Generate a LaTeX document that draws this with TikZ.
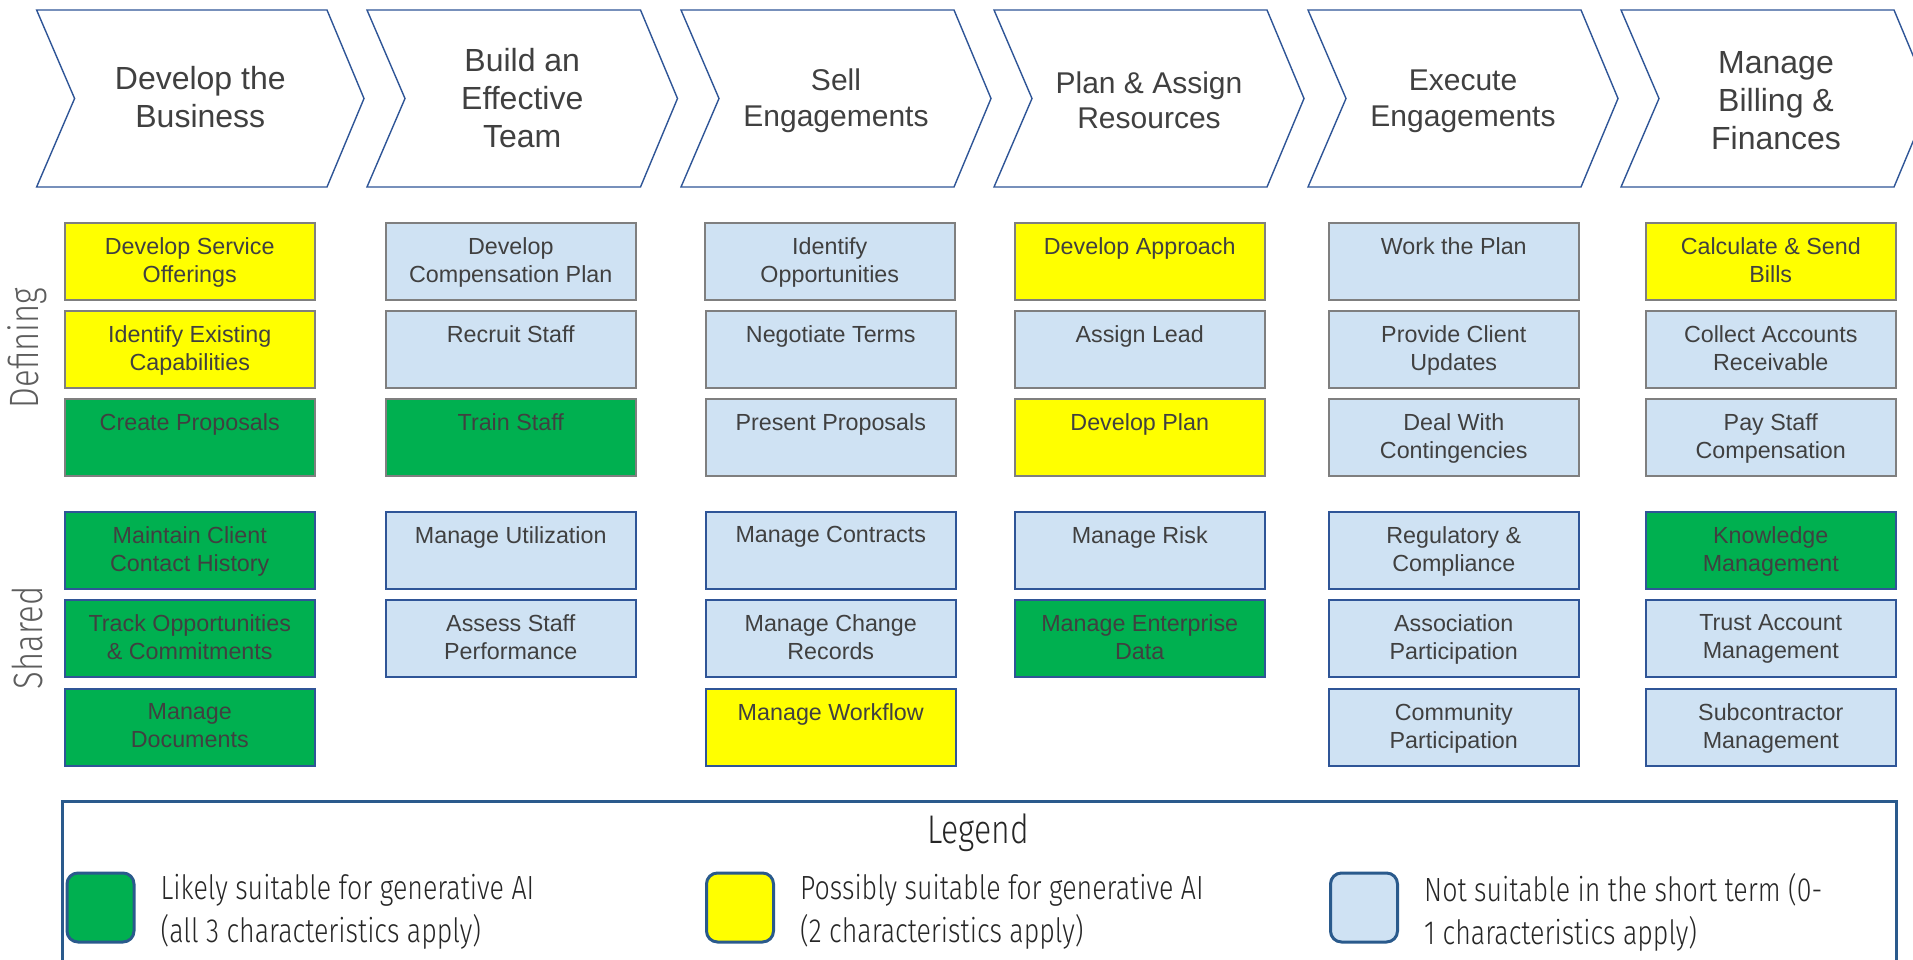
\documentclass[tikz,border=0pt]{standalone}
\usepackage{fontspec}
\setmainfont{Liberation Sans}
\newfontfamily\thinfont[FakeStretch=0.80]{Fira Sans Light}
\usetikzlibrary{positioning}
\definecolor{aigreen}{HTML}{00B050}
\definecolor{aiyellow}{HTML}{FFFF00}
\definecolor{aiblue}{HTML}{CFE2F3}
\definecolor{rimgray}{HTML}{7F7F7F}
\definecolor{rimblue}{HTML}{2F5597}
\definecolor{frameblue}{HTML}{2A5A8C}
\definecolor{inkgray}{HTML}{404040}
\tikzset{
	phase/.style={
		draw=rimblue,
		line width=1.4pt,
		fill=white,
		line join=miter
	},
	phasetext/.style={
		align=center,
		text=inkgray,
		inner sep=0pt,
		font=\fontsize{32}{38}\selectfont
	},
	smallphase/.style={
		font=\fontsize{30}{35.5}\selectfont
	},
	task/.style={
		rectangle,
		anchor=north west,
		minimum width=250pt,
		minimum height=77pt,
		inner sep=0pt,
		line width=1.5pt
	},
	tasktext/.style={
		anchor=north,
		align=center,
		inner sep=0pt,
		text=inkgray,
		font=\fontsize{23.3}{28}\selectfont
	},
	defining/.style={task, draw=rimgray},
	shared/.style={task, draw=rimblue},
	likely/.style={fill=aigreen},
	possibly/.style={fill=aiyellow},
	unlikely/.style={fill=aiblue},
	sidetext/.style={
		rotate=90,
		text=inkgray!85,
		inner sep=0pt,
		font=\thinfont\fontsize{41}{41}\selectfont
	},
	swatch/.style={
		rectangle,
		rounded corners=11pt,
		draw=frameblue,
		line width=3pt,
		minimum width=67pt,
		minimum height=69pt,
		inner sep=0pt
	},
	keytext/.style={
		align=left,
		inner sep=0pt,
		yshift=-4.5pt,
		text=black!85,
		font=\thinfont\fontsize{33.5}{43}\selectfont
	}
}
\newcommand{\phasebox}[5][]{%
	\draw[phase] (#3,10) -- (#4,10) -- (#4+37,98.5) -- (#4,187) -- (#3,187) -- (#3+38,98.5) -- cycle;
	\node[phasetext, #1] (#2) at ({(#3+#4+37)/2},98.5) {#5};
}
\newcommand{\taskbox}[5]{%
	\node[#4] (#1) at (#2,#3) {};
	\node[tasktext] (#1-text) at ([yshift=-15pt]#1.north) {#5};
}

\begin{document}
\begin{tikzpicture}[x=1pt, y=-1pt]
	\useasboundingbox (0,0) rectangle (1913,960);
	\fill[white] (0,0) rectangle (1913,960);

	\phasebox[yshift=1pt]{business}{36.6}{327}{Develop the\\Business}
	\phasebox{team}{367}{640.5}{Build an\\Effective\\Team}
	\phasebox[smallphase, yshift=-2pt]{sell}{681}{954}{Sell\\Engagements}
	\phasebox[smallphase, yshift=-2pt]{plan}{994}{1267}{Plan \& Assign\\Resources}
	\phasebox[smallphase, yshift=-3pt]{execute}{1308}{1581}{Execute\\Engagements}
	\phasebox[yshift=-2pt]{billing}{1621}{1894}{Manage\\Billing \&\\Finances}

	\node[sidetext] (defining) at (27,348) {Defining};
	\node[sidetext] (shared) at (27,638) {Shared};

	\taskbox{offerings}{64}{222}{defining, possibly}{Develop Service\\Offerings}
	\taskbox{capabilities}{64}{310}{defining, possibly}{Identify Existing\\Capabilities}
	\taskbox{proposals}{64}{398}{defining, likely}{Create Proposals}
	\taskbox{history}{64}{511}{shared, likely}{Maintain Client\\Contact History}
	\taskbox{commitments}{64}{599}{shared, likely}{Track Opportunities\\\& Commitments}
	\taskbox{documents}{64}{688}{shared, likely}{Manage\\Documents}

	\taskbox{compplan}{385}{222}{defining, unlikely}{Develop\\Compensation Plan}
	\taskbox{recruit}{385}{310}{defining, unlikely}{Recruit Staff}
	\taskbox{train}{385}{398}{defining, likely}{Train Staff}
	\taskbox{utilization}{385}{511}{shared, unlikely}{Manage Utilization}
	\taskbox{assess}{385}{599}{shared, unlikely}{Assess Staff\\Performance}

	\taskbox{opportunities}{704}{222}{defining, unlikely}{Identify\\Opportunities}
	\taskbox{terms}{705}{310}{defining, unlikely}{Negotiate Terms}
	\taskbox{present}{705}{398}{defining, unlikely}{Present Proposals}
	\taskbox{contracts}{705}{511}{shared, unlikely}{Manage Contracts}
	\taskbox{changes}{705}{599}{shared, unlikely}{Manage Change\\Records}
	\taskbox{workflow}{705}{688}{shared, possibly}{Manage Workflow}

	\taskbox{approach}{1014}{222}{defining, possibly}{Develop Approach}
	\taskbox{lead}{1014}{310}{defining, unlikely}{Assign Lead}
	\taskbox{devplan}{1014}{398}{defining, possibly}{Develop Plan}
	\taskbox{risk}{1014}{511}{shared, unlikely}{Manage Risk}
	\taskbox{enterprise}{1014}{599}{shared, likely}{Manage Enterprise\\Data}

	\taskbox{workplan}{1328}{222}{defining, unlikely}{Work the Plan}
	\taskbox{updates}{1328}{310}{defining, unlikely}{Provide Client\\Updates}
	\taskbox{contingencies}{1328}{398}{defining, unlikely}{Deal With\\Contingencies}
	\taskbox{compliance}{1328}{511}{shared, unlikely}{Regulatory \&\\Compliance}
	\taskbox{association}{1328}{599}{shared, unlikely}{Association\\Participation}
	\taskbox{community}{1328}{688}{shared, unlikely}{Community\\Participation}

	\taskbox{bills}{1645}{222}{defining, possibly}{Calculate \& Send\\Bills}
	\taskbox{receivable}{1645}{310}{defining, unlikely}{Collect Accounts\\Receivable}
	\taskbox{payroll}{1645}{398}{defining, unlikely}{Pay Staff\\Compensation}
	\taskbox{knowledge}{1645}{511}{shared, likely}{Knowledge\\Management}
	\taskbox{trust}{1645}{599}{shared, unlikely}{Trust Account\\Management}
	\taskbox{subcontractor}{1645}{688}{shared, unlikely}{Subcontractor\\Management}

	\node[draw=frameblue, line width=2.6pt, anchor=north west, minimum width=1834pt, minimum height=220pt, inner sep=0pt] (legend) at (61,800) {};
	\node[text=black!85, font=\thinfont\fontsize{40}{40}\selectfont, inner sep=0pt, anchor=base] (legendtitle) at (978,843) {Legend};

	\node[swatch, fill=aigreen] (keylikely) at (100.5,907.5) {};
	\node[keytext, right=25pt of keylikely] (likelytext) {Likely suitable for generative AI\\(all 3 characteristics apply)};
	\node[swatch, fill=aiyellow] (keypossibly) at (740,907.5) {};
	\node[keytext, right=25pt of keypossibly] (possiblytext) {Possibly suitable for generative AI\\(2 characteristics apply)};
	\node[swatch, fill=aiblue] (keyunlikely) at (1364,907.5) {};
	\node[keytext, right=25pt of keyunlikely] (unlikelytext) {Not suitable in the short term (0-\\1 characteristics apply)};
\end{tikzpicture}
\end{document}
